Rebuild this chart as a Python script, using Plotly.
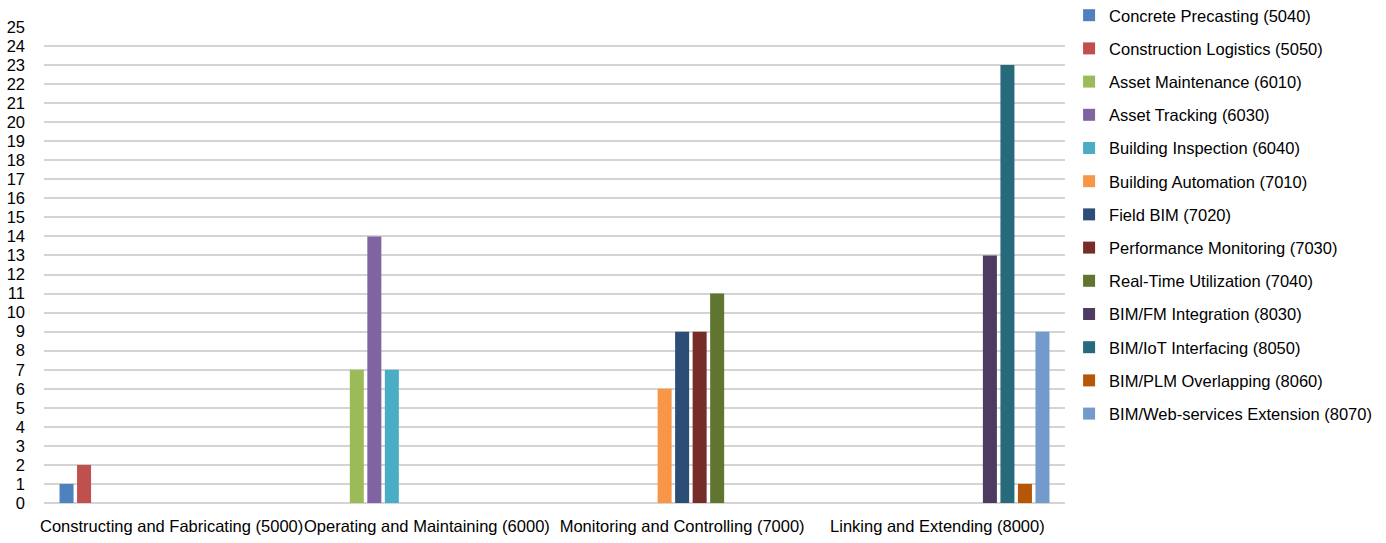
import plotly.graph_objects as go

categories = [
    "Constructing and Fabricating (5000)",
    "Operating and Maintaining (6000)",
    "Monitoring and Controlling (7000)",
    "Linking and Extending (8000)",
]

series_names = [
    "Concrete Precasting (5040)",
    "Construction Logistics (5050)",
    "Asset Maintenance (6010)",
    "Asset Tracking (6030)",
    "Building Inspection (6040)",
    "Building Automation (7010)",
    "Field BIM (7020)",
    "Performance Monitoring (7030)",
    "Real-Time Utilization (7040)",
    "BIM/FM Integration (8030)",
    "BIM/IoT Interfacing (8050)",
    "BIM/PLM Overlapping (8060)",
    "BIM/Web-services Extension (8070)",
]

# One value per category for each series (None where the series has no entry)
series_values = [
    [1, None, None, None],
    [2, None, None, None],
    [None, 7, None, None],
    [None, 14, None, None],
    [None, 7, None, None],
    [None, None, 6, None],
    [None, None, 9, None],
    [None, None, 9, None],
    [None, None, 11, None],
    [None, None, None, 13],
    [None, None, None, 23],
    [None, None, None, 1],
    [None, None, None, 9],
]

series_colors = [
    "#4F81BD", "#C0504D", "#9BBB59", "#8064A2", "#4BACC6", "#F79646",
    "#2C4D75", "#772C2A", "#5F7530", "#4D3B62", "#276A7C", "#B65708",
    "#729ACA",
]

y_ticks = list(range(0, 26))

fig = go.Figure()
for name, vals, color in zip(series_names, series_values, series_colors):
    fig.add_trace(go.Bar(
        x=categories,
        y=vals,
        name=name,
        legendgroup=name,
        marker=dict(color=color, line=dict(width=0)),
    ))

font_family = "Liberation Sans, Arial, sans-serif"

fig.update_layout(
    width=1386,
    height=543,
    barmode="group",
    bargap=0.108,
    bargroupgap=0.2,
    plot_bgcolor="white",
    paper_bgcolor="white",
    font=dict(family=font_family, size=16.5, color="#000000"),
    margin=dict(l=44, r=321, t=27, b=40, autoexpand=False),
    legend=dict(
        x=1.004,
        xanchor="left",
        y=1.061,
        yanchor="top",
        tracegroupgap=8.75,
        maxheight=1,
        font=dict(family=font_family, size=16.5, color="#000000"),
        itemwidth=30,
    ),
    xaxis=dict(
        showgrid=False,
        showline=False,
        ticks="",
        tickangle=0,
        automargin=False,
        ticklabelstandoff=11,
        tickfont=dict(size=16.5),
    ),
    yaxis=dict(
        range=[0, 25],
        tickvals=y_ticks,
        ticktext=[str(v) for v in y_ticks],
        showgrid=True,
        gridcolor="#d4d4d4",
        gridwidth=1.5,
        zeroline=True,
        zerolinecolor="#d4d4d4",
        zerolinewidth=1.5,
        showline=False,
        ticks="",
        automargin=False,
        ticklabelstandoff=18,
        tickfont=dict(size=16.5),
    ),
)

fig.write_html("out.html")
